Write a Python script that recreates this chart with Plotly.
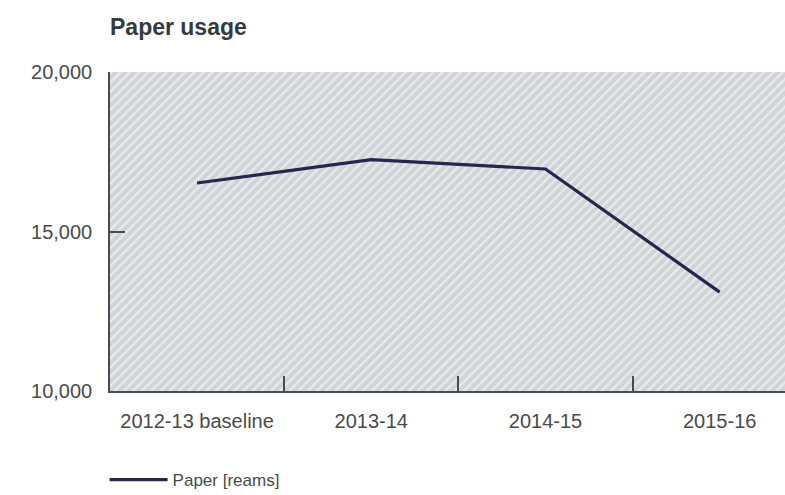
import plotly.graph_objects as go
import urllib.parse

categories = ["2012-13 baseline", "2013-14", "2014-15", "2015-16"]
paper_reams = [16520, 17250, 16960, 13100]
series_name = "Paper [reams]"
y_ticks = [10000, 15000, 20000]

x_idx = list(range(len(categories)))

# hatch background for the plot area
svg = (
    "<svg xmlns='http://www.w3.org/2000/svg' width='675' height='319'>"
    "<defs><pattern id='p' width='6.5' height='6.5' patternUnits='userSpaceOnUse' "
    "patternTransform='rotate(45)'>"
    "<rect width='6.5' height='6.5' fill='#d2d3d7'/>"
    "<rect width='2.4' height='6.5' fill='#e8e9eb'/>"
    "</pattern></defs>"
    "<rect width='100%' height='100%' fill='url(#p)'/></svg>"
)
bg_src = "data:image/svg+xml;charset=utf-8," + urllib.parse.quote(svg)

axis_col = "#454d50"
txt_col = "#4a4a4a"
font = "Liberation Sans, Arial, sans-serif"

fig = go.Figure()
fig.add_trace(go.Scatter(
    x=x_idx, y=paper_reams, mode="lines", name=series_name,
    line=dict(color="#29254f", width=3.2),
))

fig.update_layout(
    width=785, height=495,
    margin=dict(l=110, r=0, t=72, b=104, autoexpand=False),
    paper_bgcolor="white",
    plot_bgcolor="#d3d4d8",
    font=dict(family=font, color=txt_col, size=20),
    title=dict(
        text="<b>Paper usage</b>", xref="paper", x=0, xanchor="left",
        yref="container", y=1 - 27 / 495, yanchor="middle",
        font=dict(family=font, size=23, color="#333b3f"),
    ),
    images=[dict(
        source=bg_src, xref="paper", yref="paper", x=0, y=1,
        sizex=1, sizey=1, xanchor="left", yanchor="top",
        sizing="stretch", layer="below",
    )],
    showlegend=True,
    legend=dict(
        orientation="h", x=-0.008, xanchor="left",
        yref="container", y=1 - 480 / 495, yanchor="middle",
        font=dict(family=font, size=17, color=txt_col),
        itemwidth=58, bgcolor="rgba(0,0,0,0)",
    ),
    xaxis=dict(
        range=[-0.5, 3.375],
        tickvals=x_idx, ticktext=categories,
        ticks="", showgrid=False, zeroline=False,
        showline=True, linecolor=axis_col, linewidth=1.6,
        ticklabelstandoff=11,
        minor=dict(tickvals=[0.5, 1.5, 2.5], ticks="inside", ticklen=15,
                   tickcolor=axis_col, tickwidth=1.6, showgrid=False),
    ),
    yaxis=dict(
        range=[10000, 20000],
        tickvals=y_ticks, tickformat=",",
        ticks="inside", ticklen=15, tickcolor=axis_col, tickwidth=1.6,
        showgrid=False, zeroline=False,
        showline=True, linecolor=axis_col, linewidth=1.6,
        ticklabelstandoff=12,
    ),
)

fig.write_html("out.html")
